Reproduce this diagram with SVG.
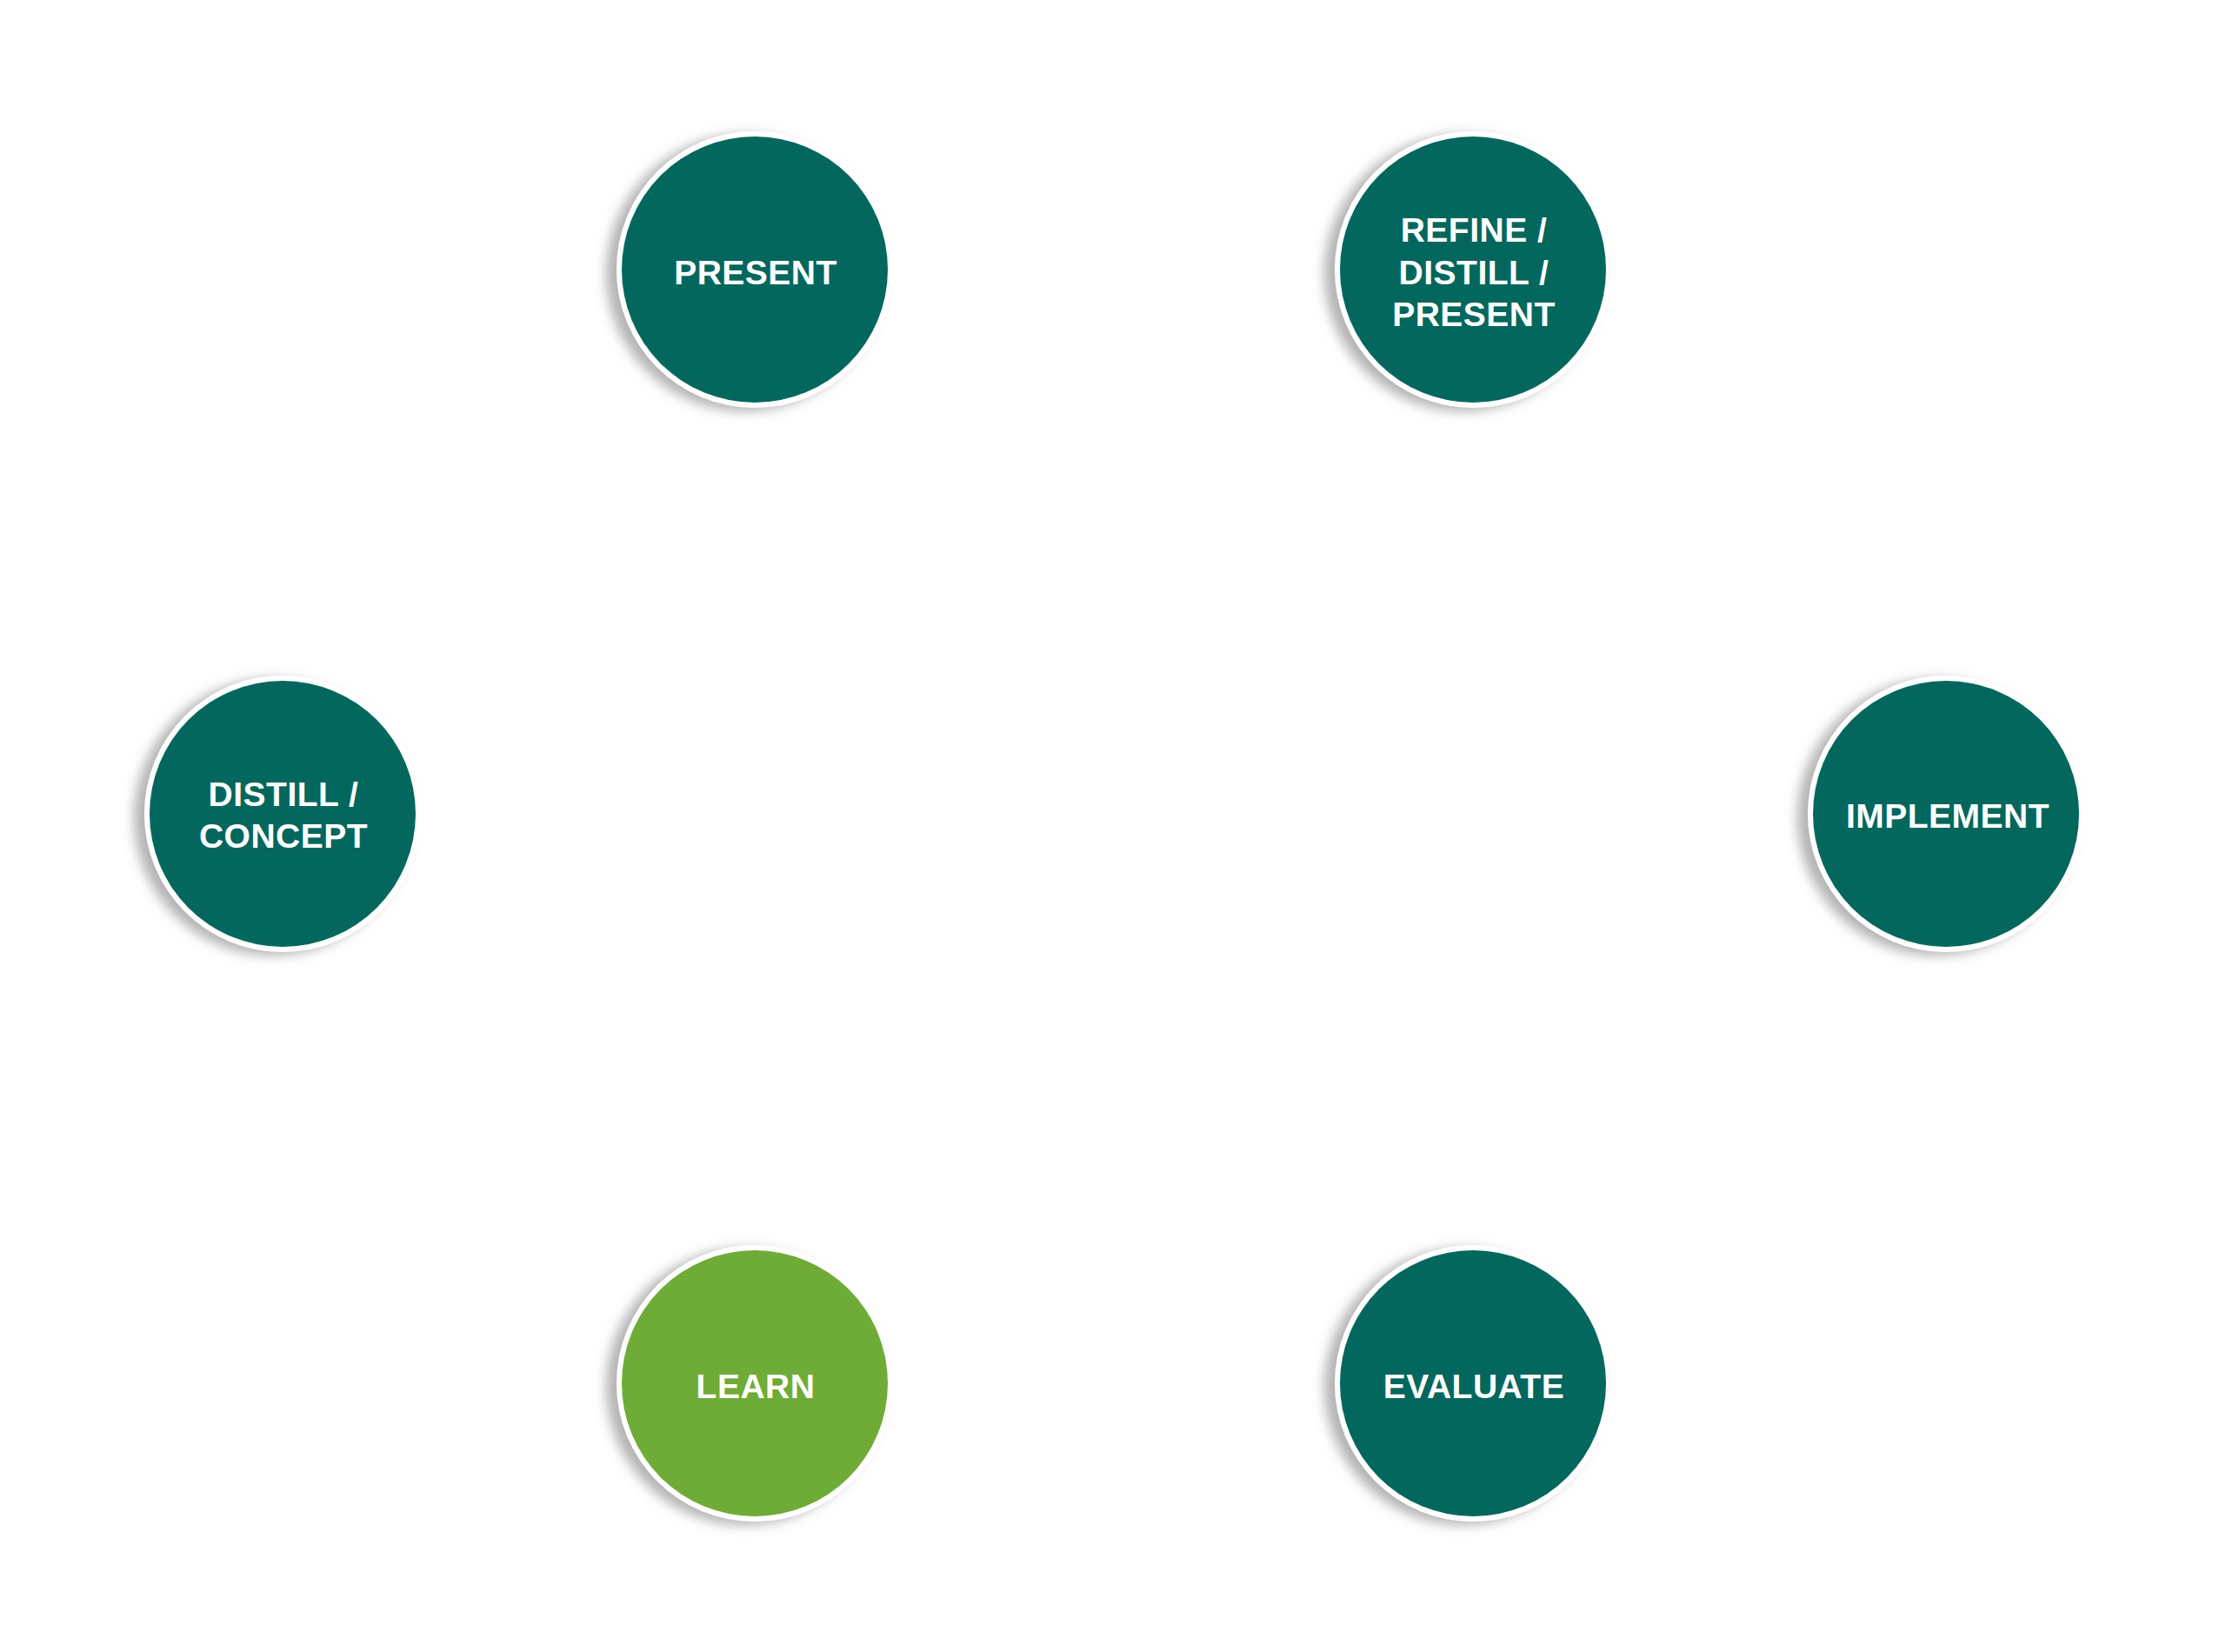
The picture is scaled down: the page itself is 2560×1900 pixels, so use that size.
<svg xmlns="http://www.w3.org/2000/svg" width="2560" height="1900" viewBox="0 0 2560 1900">
<defs>
<filter id="sh" x="-20%" y="-20%" width="140%" height="140%">
<feDropShadow dx="-12" dy="4" stdDeviation="7" flood-color="#808080" flood-opacity="0.6"/>
</filter>
</defs>
<style>
.ring{fill:#ffffff;filter:url(#sh)}
.teal{fill:#03675d}
.green{fill:#6eac37}
.lbl{font-family:"Liberation Sans",Arial,sans-serif;font-weight:bold;font-size:39px;fill:#ffffff;text-anchor:middle;letter-spacing:0.5px}
</style>
<rect width="2560" height="1900" fill="#ffffff"/>
<g id="connectors"></g>
<g id="present">
<circle class="ring" cx="868" cy="310" r="159"/>
<circle class="teal" cx="868" cy="310" r="153"/>
<text class="lbl" x="869" y="327">PRESENT</text>
</g>
<g id="refine">
<circle class="ring" cx="1694" cy="310" r="159"/>
<circle class="teal" cx="1694" cy="310" r="153"/>
<text class="lbl" x="1695" y="278">REFINE /</text>
<text class="lbl" x="1695" y="327">DISTILL /</text>
<text class="lbl" x="1695" y="375">PRESENT</text>
</g>
<g id="distill">
<circle class="ring" cx="325" cy="936" r="159"/>
<circle class="teal" cx="325" cy="936" r="153"/>
<text class="lbl" x="326" y="927">DISTILL /</text>
<text class="lbl" x="326" y="975">CONCEPT</text>
</g>
<g id="implement">
<circle class="ring" cx="2238" cy="936" r="159"/>
<circle class="teal" cx="2238" cy="936" r="153"/>
<text class="lbl" x="2240" y="952">IMPLEMENT</text>
</g>
<g id="learn">
<circle class="ring" cx="868" cy="1591" r="159"/>
<circle class="green" cx="868" cy="1591" r="153"/>
<text class="lbl" x="869" y="1608">LEARN</text>
</g>
<g id="evaluate">
<circle class="ring" cx="1694" cy="1591" r="159"/>
<circle class="teal" cx="1694" cy="1591" r="153"/>
<text class="lbl" x="1695" y="1608">EVALUATE</text>
</g>
</svg>
